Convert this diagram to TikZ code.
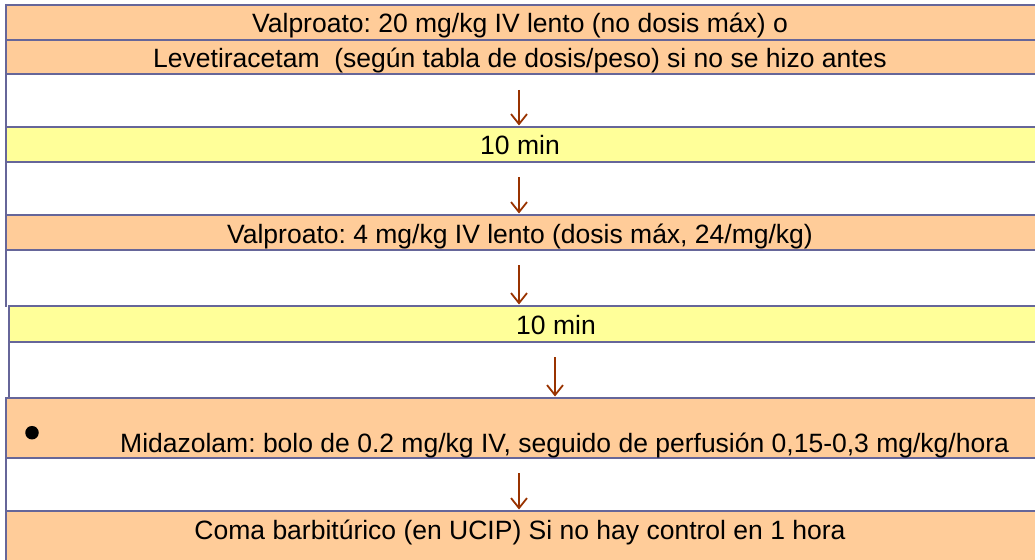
\documentclass[tikz,border=0pt]{standalone}
\usepackage{fontspec}
\setmainfont{Liberation Sans}
\usetikzlibrary{arrows.meta}
\definecolor{rulec}{HTML}{666699}
\definecolor{orangec}{HTML}{FFCC99}
\definecolor{yellowc}{HTML}{FFFF99}
\definecolor{arrc}{HTML}{993300}
\frenchspacing
\tikzset{
  cell/.style={inner sep=0pt, outer sep=0pt, anchor=north west, minimum width=1100pt},
  rule/.style={draw=rulec, line width=2.4pt},
  txt/.style={font=\fontsize{26.5}{30}\selectfont, inner sep=0pt, anchor=base, text=black},
  arr/.style={draw=arrc, line width=1.8pt, shorten >=1.5pt, -{Straight Barb[length=10pt,width=16pt,line width=1.8pt]}}
}
\begin{document}
\begin{tikzpicture}[x=1pt,y=-1pt]
\useasboundingbox (0,0) rectangle (1035,559);
\clip (0,0) rectangle (1035,559);
% rows
\node[cell, fill=orangec, minimum height=35pt] (r1) at (6,5) {};
\node[cell, fill=orangec, minimum height=34pt] (r2) at (6,40) {};
\node[cell, fill=white,   minimum height=53pt] (r3) at (6,74) {};
\node[cell, fill=yellowc, minimum height=35pt] (r4) at (6,127) {};
\node[cell, fill=white,   minimum height=53pt] (r5) at (6,162) {};
\node[cell, fill=orangec, minimum height=35pt] (r6) at (6,215) {};
\node[cell, fill=white,   minimum height=56pt] (r7) at (6,250) {};
\node[cell, fill=yellowc, minimum height=36pt] (r8) at (9,306) {};
\node[cell, fill=white,   minimum height=56pt] (r9) at (9,342) {};
\node[cell, fill=orangec, minimum height=60pt] (r10) at (6,398) {};
\node[cell, fill=white,   minimum height=53pt] (r11) at (6,458) {};
\node[cell, fill=orangec, minimum height=60pt] (r12) at (6,511) {};
% rules
\foreach \r in {r1,r2,r3,r4,r5,r6,r7,r8,r9,r10,r11,r12}{
  \draw[rule] (\r.north west) -- (\r.north east);
  \draw[rule] ([yshift=1pt]\r.north west) -- ([yshift=-1pt]\r.south west);
}
% texts
\node[txt] (t1) at (520,33) {Valproato: 20 mg/kg IV lento (no dosis máx) o};
\node[txt] (t2) at (520,68) {Levetiracetam~ (según tabla de dosis/peso) si no se hizo antes};
\node[txt] (t4) at (520,154) {10 min};
\node[txt] (t6) at (520,243) {Valproato: 4 mg/kg IV lento (dosis máx, 24/mg/kg)};
\node[txt] (t8) at (556,334) {10 min};
\node[txt, anchor=base west] (t10) at (120,452) {Midazolam: bolo de 0.2 mg/kg IV, seguido de perfusión 0,15-0,3 mg/kg/hora};
\node[circle, fill=black, inner sep=0pt, minimum size=13.5pt] (b10) at (32,432.7) {};
\node[txt] (t12) at (520,539) {Coma barbitúrico (en UCIP) Si no hay control en 1 hora};
% arrows
\coordinate (a3) at (519,90);
\coordinate (a5) at (519,177);
\coordinate (a7) at (519,265);
\coordinate (a9) at (555,357);
\coordinate (a11) at (519,473);
\draw[arr] (a3) -- (a3 |- r4.north);
\draw[arr] (a5) -- (a5 |- r6.north);
\draw[arr] (a7) -- (a7 |- r8.north);
\draw[arr] (a9) -- (a9 |- r10.north);
\draw[arr] (a11) -- (a11 |- r12.north);
\end{tikzpicture}
\end{document}
